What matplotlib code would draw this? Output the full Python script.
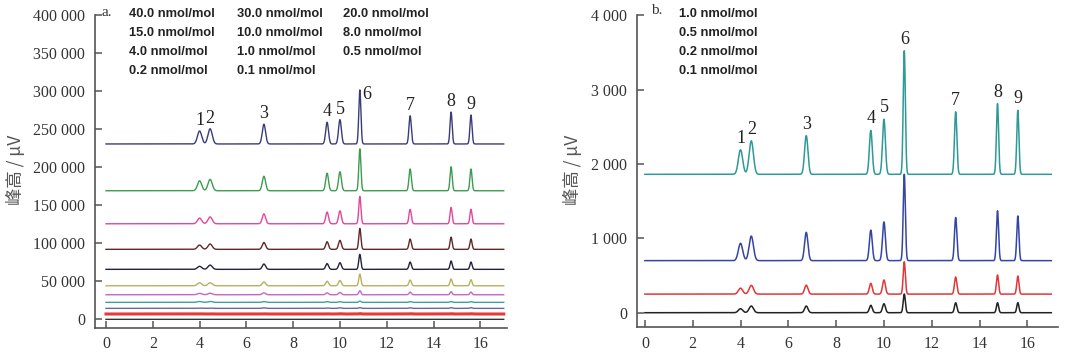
import numpy as np
import matplotlib
matplotlib.use("Agg")
import matplotlib.pyplot as plt
from matplotlib.ticker import FuncFormatter

# ---------------- data ----------------
peak_rt = [4.0, 4.45, 6.75, 9.45, 10.0, 10.85, 13.0, 14.75, 15.6]
peak_sigma = [0.09, 0.09, 0.07, 0.06, 0.06, 0.045, 0.05, 0.045, 0.045]
peak_names = ["1", "2", "3", "4", "5", "6", "7", "8", "9"]

# panel a: concentrations, baselines (µV) and peak heights (µV)
conc_a = ["40.0", "30.0", "20.0", "15.0", "10.0", "8.0", "4.0", "1.0", "0.5", "0.2", "0.1"]
base_a = [230500, 169000, 125600, 92000, 65700, 44100, 32300, 22300, 14400, 7000, 0]
heights_a = [
    [17000, 20000, 26000, 28500, 32000, 71000, 37000, 42000, 38000],
    [13000, 15000, 19000, 23000, 25000, 55000, 28600, 31600, 28600],
    [7500, 9000, 13000, 15400, 17000, 36000, 19000, 21500, 19000],
    [5600, 7000, 9000, 10000, 11800, 27500, 13500, 16000, 13500],
    [4000, 5600, 7000, 7500, 8700, 19700, 9600, 11000, 9600],
    [4000, 4000, 5000, 6000, 7000, 15400, 7500, 9000, 8000],
    [1800, 2000, 2500, 2500, 3000, 5300, 3500, 4000, 3500],
    [1200, 1200, 1000, 1000, 1000, 1600, 1000, 1100, 1000],
    [300, 300, 700, 500, 800, 1000, 800, 1000, 1000],
    [200, 200, 200, 200, 300, 500, 300, 300, 300],
    [0, 0, 0, 0, 0, 0, 0, 0, 0],
]
colors_a = ["#3a3c78", "#3f9a52", "#e0489a", "#602828", "#22223f", "#b8b060",
            "#c466c8", "#40a0a0", "#6868a8", "#e83838", "#333333"]

# panel b
conc_b = ["1.0", "0.5", "0.2", "0.1"]
base_b = [1860, 700, 250, 0]
heights_b = [
    [330, 450, 520, 590, 740, 1660, 840, 950, 860],
    [233, 330, 380, 410, 520, 1160, 580, 670, 600],
    [80, 118, 120, 145, 190, 435, 230, 257, 243],
    [54, 90, 90, 100, 121, 251, 134, 134, 134],
]
colors_b = ["#2e9a98", "#3545a5", "#e0383a", "#222222"]

W, H = 1080, 352
fig = plt.figure(figsize=(W / 100, H / 100), dpi=100)

def fx(px):
    return px / W

def fy(py):
    return 1 - py / H

x = np.linspace(0, 17, 3401)

def trace(base, hs):
    y = np.full_like(x, float(base))
    for rt, s, h in zip(peak_rt, peak_sigma, hs):
        y += h * np.exp(-0.5 * ((x - rt) / s) ** 2)
    return y

def style_axes(ax):
    for side in ["top", "right"]:
        ax.spines[side].set_visible(False)
    for side in ["left", "bottom"]:
        ax.spines[side].set_color("#555555")
        ax.spines[side].set_linewidth(1.2)
    ax.tick_params(direction="in", length=5, width=1.1, color="#555555",
                   labelsize=11.5, labelcolor="#333333")
    ax.tick_params(axis="y", pad=7)
    ax.tick_params(axis="x", pad=6)
    ax.set_xticks(range(0, 17, 2))
    for lab in ax.get_xticklabels() + ax.get_yticklabels():
        lab.set_family("Liberation Serif")

fmt = FuncFormatter(lambda v, p: f"{int(v):,}".replace(",", " "))

# ---------------- panel a ----------------
axa = fig.add_axes([fx(95), fy(328), fx(507) - fx(95), fy(15) - fy(328)])
for i, (b, hs, c) in enumerate(zip(base_a, heights_a, colors_a)):
    lw = 2.2 if conc_a[i] == "0.2" else 1.0
    axa.plot(x, trace(b, hs), color=c, lw=lw)
axa.set_xlim(-0.47, 17.14)
axa.set_ylim(-11400, 400000)
axa.set_yticks(range(0, 400001, 50000))
axa.yaxis.set_major_formatter(fmt)
style_axes(axa)

top_a = [base_a[0] + h for h in heights_a[0]]
for i, name in enumerate(peak_names):
    if name == "6":
        axa.text(peak_rt[i] + 0.12, top_a[i] - 6000, name, ha="left", va="center",
                 family="Liberation Serif", fontsize=13, color="#222222")
    else:
        axa.text(peak_rt[i], top_a[i] + 2500, name, ha="center", va="bottom",
                 family="Liberation Serif", fontsize=13, color="#222222")

cols_a = [129, 237, 343]
rows = [14, 33, 52, 71]
for k, cval in enumerate(conc_a):
    r, cidx = divmod(k, 3)
    fig.text(fx(cols_a[cidx]), fy(rows[r]), f"{cval} nmol/mol", ha="left", va="center",
             family="Liberation Sans", weight="bold", fontsize=9.3, color="#222222")
fig.text(fx(102), fy(12), "a.", ha="left", va="center", family="Liberation Serif",
         fontsize=11, color="#333333")

# ---------------- panel b ----------------
axb = fig.add_axes([fx(637), fy(327.3), fx(1058) - fx(637), fy(15.1) - fy(327.3)])
for b, hs, c in zip(base_b, heights_b, colors_b):
    axb.plot(x, trace(b, hs), color=c, lw=1.1)
axb.set_xlim(-0.33, 17.28)
axb.set_ylim(-196, 4000)
axb.set_yticks(range(0, 4001, 1000))
axb.yaxis.set_major_formatter(fmt)
style_axes(axb)

top_b = [base_b[0] + h for h in heights_b[0]]
for i, name in enumerate(peak_names):
    axb.text(peak_rt[i], top_b[i] + 40, name, ha="center", va="bottom",
             family="Liberation Serif", fontsize=13, color="#222222")

for k, cval in enumerate(conc_b):
    fig.text(fx(679), fy(rows[k]), f"{cval} nmol/mol", ha="left", va="center",
             family="Liberation Sans", weight="bold", fontsize=9.3, color="#222222")
fig.text(fx(651), fy(10), "b.", ha="left", va="center", family="Liberation Serif",
         fontsize=11, color="#333333")

# y labels
for px in (15, 572):
    fig.text(fx(px), fy(170), "峰高 / μV", rotation=90, ha="center", va="center",
             family=["Noto Sans CJK SC", "DejaVu Sans"], fontsize=12.5, color="#555555")

fig.savefig("out.png", dpi=100)
